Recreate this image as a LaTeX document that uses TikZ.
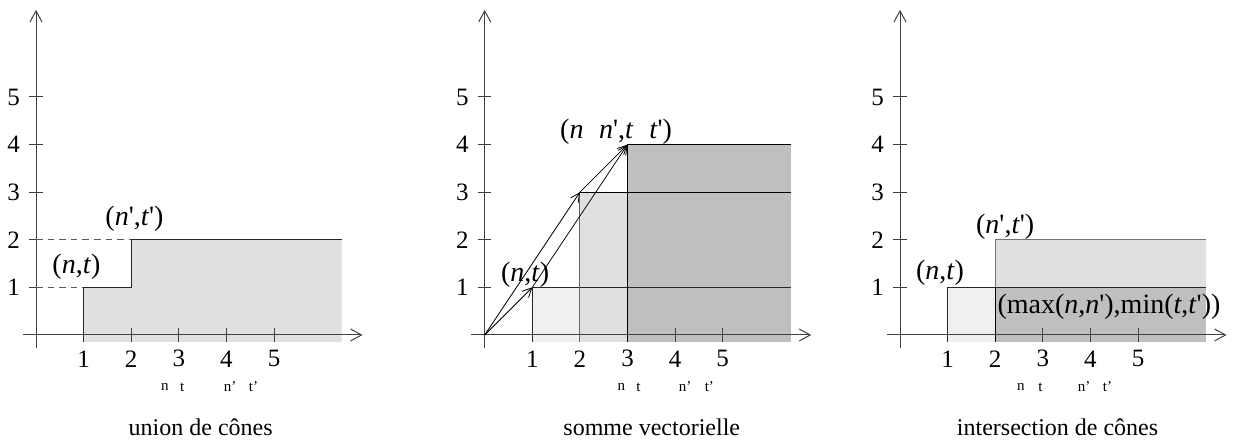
\documentclass[tikz,border=0pt]{standalone}
\usepackage{fontspec}
\newfontfamily\tnr{Liberation Serif}
\usetikzlibrary{arrows.meta}
\tikzset{
  axisline/.style={line width=0.5pt, draw=black!75, -{Straight Barb[length=5.5pt,width=6pt]}},
  tickline/.style={line width=0.5pt, draw=black!75},
  ticklbl/.style={font=\tnr\fontsize{12.5}{13}\selectfont, inner sep=0pt},
  ptlbl/.style={font=\tnr\fontsize{14}{16}\selectfont, inner sep=0pt},
  smalllbl/.style={font=\tnr\fontsize{7.5}{8}\selectfont, inner sep=0pt},
  captionlbl/.style={font=\tnr\fontsize{12}{13}\selectfont, inner sep=0pt},
  conel/.style={fill=black!6},
  conem/.style={fill=black!12},
  coned/.style={fill=black!25},
  border/.style={line width=0.5pt, draw=black!85},
  guide/.style={line width=0.5pt, draw=black!65, dash pattern=on 3.3pt off 2.5pt},
  vec/.style={line width=0.4pt, draw=black, -{Straight Barb[length=4.5pt,width=4.5pt]}},
}
\newcommand{\drawaxes}[1]{%
  \coordinate (#1xl) at (-0.28,0);
  \coordinate (#1xr) at (6.86,0);
  \coordinate (#1yb) at (0,-0.28);
  \coordinate (#1yt) at (0,6.83);
  \draw[axisline] (#1xl) -- (#1xr);
  \draw[axisline] (#1yb) -- (#1yt);
  \foreach \k in {1,...,5}{
    \draw[tickline] (\k,-0.14) -- (\k,0.14);
    \draw[tickline] (-0.14,\k) -- (0.14,\k);
    \node[ticklbl] (#1x\k) at (\k,-0.5) {\k};
    \node[ticklbl] (#1y\k) at (-0.47,\k) {\k};
  }
}
\newcommand{\smalllabels}[4]{%
  \node[smalllbl] at (#1,-1.09) {n};
  \node[smalllbl] at (#2,-1.09) {t};
  \node[smalllbl] at (#3,-1.09) {n’};
  \node[smalllbl] at (#4,-1.09) {t’};
}
\begin{document}
\begin{tikzpicture}[x=1pt,y=1pt]
\useasboundingbox (0,0) rectangle (618,-221);

% ---------------- Panel 1 : union de cones
\begin{scope}[shift={(18,-167.5)}, x=23.8pt, y=23.8pt]
  \fill[conem] (1,-0.15) -- (1,1) -- (2,1) -- (2,2) -- (6.42,2) -- (6.42,-0.15) -- cycle;
  \drawaxes{a}
  \coordinate (aP) at (1,1);
  \coordinate (aQ) at (2,2);
  \coordinate (aB1) at (1,-0.15);
  \coordinate (aB2) at (2,1);
  \coordinate (aE) at (6.42,2);
  \draw[guide] (0,1) -- (aP);
  \draw[guide] (0,2) -- (aQ);
  \draw[border] (aB1) -- (aP) -- (aB2) -- (aQ) -- (aE);
  \node[ptlbl] (aL1) at (0.85,1.43) {(\textit{n},\textit{t})};
  \node[ptlbl] (aL2) at (2.07,2.45) {(\textit{n}',\textit{t}')};
  \smalllabels{2.71}{3.07}{4.08}{4.57}
  \node[captionlbl] (aCap) at (3.46,-1.93) {union de cônes};
\end{scope}

% ---------------- Panel 2 : somme vectorielle
\begin{scope}[shift={(242.35,-167.5)}, x=23.8pt, y=23.8pt]
  \fill[conel] (1,-0.15) rectangle (6.43,1);
  \fill[conem] (2,-0.15) rectangle (6.43,3);
  \fill[coned] (3,-0.15) rectangle (6.43,4);
  \drawaxes{b}
  \coordinate (bO) at (0,0);
  \coordinate (bA) at (1,1);
  \coordinate (bB) at (2,3);
  \coordinate (bC) at (3,4);
  \draw[border] (1,-0.15) -- (bA) -- (6.43,1);
  \draw[border, draw=black!60] (2,-0.15) -- (bB);
  \draw[border, draw=black] (bB) -- (6.43,3);
  \draw[border, draw=black] (3,-0.15) -- (bC) -- (6.43,4);
  \draw[vec] (bO) -- (bA);
  \draw[vec] (bO) -- (bB);
  \draw[vec] (bA) -- (bC);
  \draw[vec] (bB) -- (bC);
  \node[ptlbl] (bL1) at (0.85,1.26) {(\textit{n},\textit{t})};
  \node[ptlbl] (bL2) at (2.76,4.27) {(\textit{n}\hspace{0.56em}\textit{n}',\textit{t}\hspace{0.56em}\textit{t}')};
  \smalllabels{2.87}{3.23}{4.21}{4.72}
  \node[captionlbl] (bCap) at (3.51,-1.93) {somme vectorielle};
\end{scope}

% ---------------- Panel 3 : intersection de cones
\begin{scope}[shift={(450,-167.5)}, x=23.8pt, y=23.8pt]
  \fill[conel] (1,-0.15) rectangle (6.43,1);
  \fill[conem] (2,-0.15) rectangle (6.43,2);
  \fill[coned] (2,-0.15) rectangle (6.43,1);
  \drawaxes{c}
  \coordinate (cA) at (1,1);
  \coordinate (cB) at (2,2);
  \draw[border] (1,-0.15) -- (cA) -- (6.43,1);
  \draw[border, draw=black!55] (2,-0.15) -- (cB) -- (6.43,2);
  \draw[border, draw=black] (2,-0.15) -- (2,1);
  \node[ptlbl] (cL1) at (0.84,1.3) {(\textit{n},\textit{t})};
  \node[ptlbl] (cL2) at (2.21,2.28) {(\textit{n}',\textit{t}')};
  \node[ptlbl] (cL3) at (4.39,0.6) {(max(\textit{n},\textit{n}'),min(\textit{t},\textit{t}'))};
  \smalllabels{2.54}{2.95}{3.87}{4.36}
  \node[captionlbl] (cCap) at (3.31,-1.93) {intersection de cônes};
\end{scope}
\end{tikzpicture}
\end{document}
